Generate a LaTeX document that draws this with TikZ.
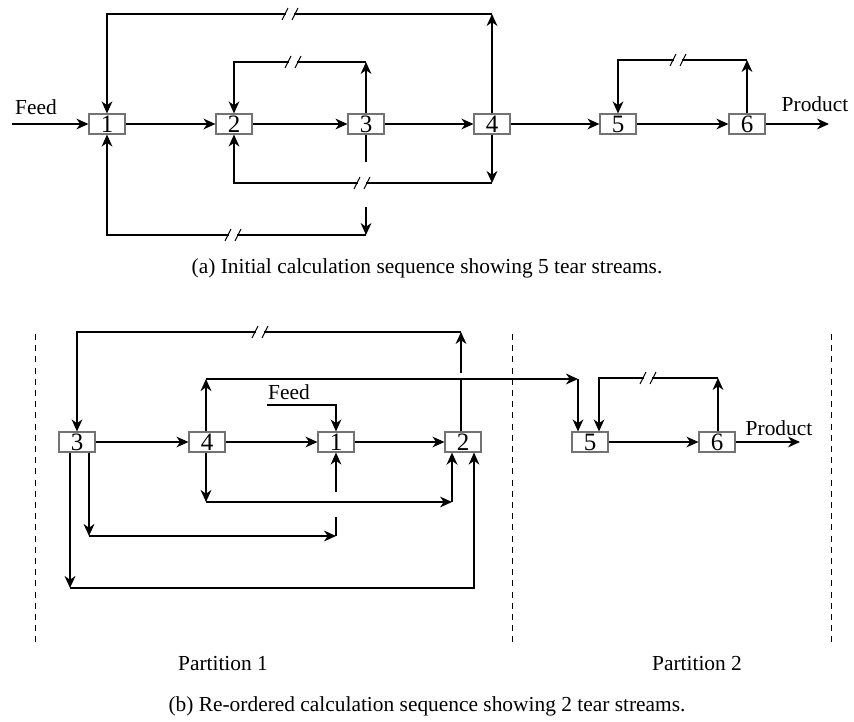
\documentclass[tikz,border=0pt]{standalone}
\usepackage{fontspec}
\setmainfont{Liberation Serif}
\usetikzlibrary{arrows.meta}

\begin{document}
\begin{tikzpicture}[
  x=0.5pt, y=-0.5pt,
  font=\fontsize{10.7}{13}\selectfont,
  unit/.style={draw=black!55, line width=0.6pt, fill=white,
               minimum width=18pt, minimum height=10pt, inner sep=0pt,
               font=\fontsize{12.5}{12.5}\selectfont},
  arrow/.style={-{Stealth[length=6pt, width=5.4pt, inset=1.9pt]}, line width=0.55pt},
  line/.style={line width=0.55pt},
  bold/.style={line width=1.15pt},
  partition/.style={dash pattern=on 3pt off 2.6pt, line width=0.5pt},
  tear/.pic={\fill[white] (-4,-2.5) rectangle (4,2.5);
             \draw[line width=0.5pt] (-8,6) -- (-2,-6) (2,6) -- (8,-6);}
]
  \useasboundingbox (0,0) rectangle (854,721);

  % (a) initial sequence
  \node[unit] (a1) at (107,124) {1};
  \node[unit] (a2) at (234,124) {2};
  \node[unit] (a3) at (366,124) {3};
  \node[unit] (a4) at (492,124) {4};
  \node[unit] (a5) at (618,124) {5};
  \node[unit] (a6) at (747,124) {6};

  \coordinate (afeed) at (12,124);
  \coordinate (aprod) at (829,124);
  \node (afeedlbl) at (36,107) {Feed};
  \node (aprodlbl) at (815,104) {Product};

  \coordinate (ta4) at (492,14);
  \coordinate (tb3) at (366,62);
  \coordinate (tc4) at (492,183);
  \coordinate (td3a) at (366,162);
  \coordinate (td3b) at (366,207);
  \coordinate (td3) at (366,235);
  \coordinate (te6) at (747,60);

  \draw[arrow] (afeed) -- (a1);
  \draw[arrow] (a1) -- (a2);
  \draw[arrow] (a2) -- (a3);
  \draw[arrow] (a3) -- (a4);
  \draw[arrow] (a4) -- (a5);
  \draw[arrow] (a5) -- (a6);
  \draw[arrow] (a6) -- (aprod);

  \draw[arrow] (a4.north) -- (ta4);
  \draw[arrow] (ta4) -| (a1.north);
  \draw[arrow] (a3.north) -- (tb3);
  \draw[arrow] (tb3) -| (a2.north);
  \draw[arrow] (a4.south) -- (tc4);
  \draw[arrow] (tc4) -| (a2.south);
  \draw[line] (a3.south) -- (td3a);
  \draw[arrow] (td3b) -- (td3);
  \draw[arrow] (td3) -| (a1.south);
  \draw[arrow] (a6.north) -- (te6);
  \draw[arrow] (te6) -| (a5.north);

  \pic at (290,14) {tear};
  \pic at (293,62) {tear};
  \pic at (362,183) {tear};
  \pic at (233,235) {tear};
  \pic at (678,60) {tear};

  \node (acap) at (427,268) {(a) Initial calculation sequence showing 5 tear streams.};

  % (b) re-ordered sequence
  \node[unit] (b3) at (77,442) {3};
  \node[unit] (b4) at (207,442) {4};
  \node[unit] (b1) at (336,442) {1};
  \node[unit] (b2) at (463,442) {2};
  \node[unit] (b5) at (590,442) {5};
  \node[unit] (b6) at (717,442) {6};

  \coordinate (bfeed) at (267,405);
  \coordinate (bprod) at (800,442);
  \node (bfeedlbl) at (289,392) {Feed};
  \node (bprodlbl) at (779,428) {Product};

  \coordinate (tf2a) at (461,380);
  \coordinate (tf2b) at (461,373);
  \coordinate (tf2) at (461,332);
  \coordinate (tg4) at (206,379);
  \coordinate (tg5) at (578,379);
  \coordinate (th6) at (718,378);
  \coordinate (th5) at (599,378);
  \coordinate (bi1) at (336,492);
  \coordinate (bj4) at (206,502);
  \coordinate (bj2) at (452,502);
  \coordinate (bk3) at (89,536);
  \coordinate (bk1) at (336,536);
  \coordinate (bk1a) at (336,517);
  \coordinate (bl3) at (70,588);
  \coordinate (bl2) at (474,588);

  \draw[arrow] (b3) -- (b4);
  \draw[arrow] (b4) -- (b1);
  \draw[arrow] (b1) -- (b2);
  \draw[arrow] (b5) -- (b6);
  \draw[arrow] (b6) -- (bprod);
  \draw[arrow] (bfeed) -| (b1.north);
  \draw[arrow] (bi1) -- (b1.south);

  \draw[line] (b2.north -| tf2) -- (tf2a);
  \draw[arrow] (tf2b) -- (tf2);
  \draw[arrow] (tf2) -| (b3.north);

  \draw[arrow, bold] (b4.north -| tg4) -- (tg4);
  \draw[arrow, bold] (tg4) -- (tg5);
  \draw[arrow] (tg5) -- (b5.north -| tg5);
  \draw[arrow] (b6.north -| th6) -- (th6);
  \draw[arrow] (th6) -- (th5) -- (b5.north -| th5);

  \draw[arrow, bold] (b4.south -| bj4) -- (bj4);
  \draw[arrow] (bj4) -- (bj2);
  \draw[arrow, bold] (bj2) -- (b2.south -| bj2);

  \draw[arrow, bold] (b3.south -| bk3) -- (bk3);
  \draw[arrow, bold] (bk3) -- (bk1);
  \draw[bold] (bk1) -- (bk1a);

  \draw[arrow, bold] (b3.south -| bl3) -- (bl3);
  \draw[arrow] (bl3) -- (bl2) -- (b2.south -| bl2);

  \pic at (260,332) {tear};
  \pic at (648,378) {tear};

  \coordinate (p0t) at (35,334);
  \coordinate (p0b) at (35,643);
  \coordinate (p1t) at (512,334);
  \coordinate (p1b) at (512,643);
  \coordinate (p2t) at (831,334);
  \coordinate (p2b) at (831,643);
  \draw[partition] (p0t) -- (p0b);
  \draw[partition] (p1t) -- (p1b);
  \draw[partition] (p2t) -- (p2b);

  \node (part1) at (223,664) {Partition 1};
  \node (part2) at (697,664) {Partition 2};
  \node (bcap) at (427,706) {(b) Re-ordered calculation sequence showing 2 tear streams.};
\end{tikzpicture}
\end{document}
